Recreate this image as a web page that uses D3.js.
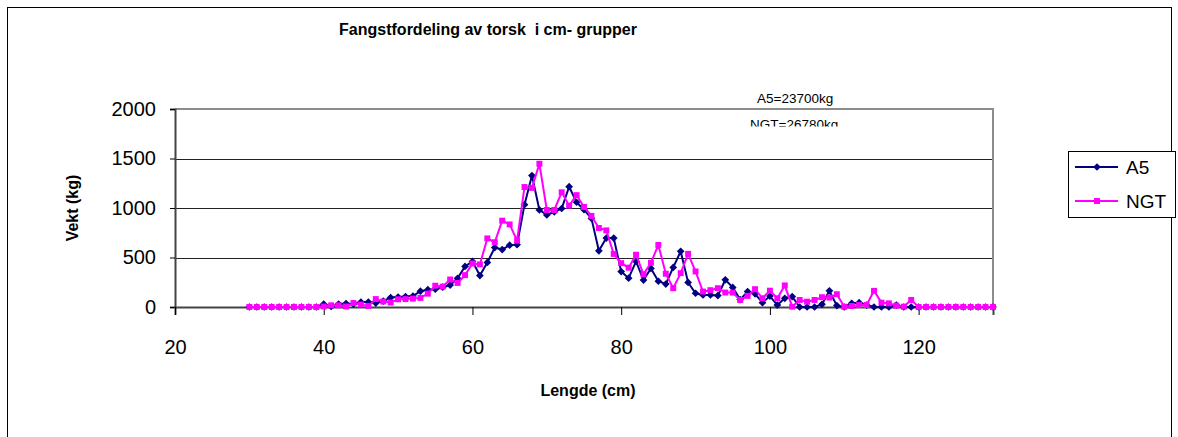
<!DOCTYPE html>
<html>
<head>
<meta charset="utf-8">
<script src="https://cdn.jsdelivr.net/npm/d3@7"></script>
<style>
  body { margin: 0; background: #fff; }
  svg { display: block; font-family: Arial, "Liberation Sans", sans-serif; }
</style>
</head>
<body>
<div id="chart"></div>
<script>
// lengths in cm, 30..130
const lengths = [30,31,32,33,34,35,36,37,38,39,40,41,42,43,44,45,46,47,48,49,
  50,51,52,53,54,55,56,57,58,59,60,61,62,63,64,65,66,67,68,69,
  70,71,72,73,74,75,76,77,78,79,80,81,82,83,84,85,86,87,88,89,
  90,91,92,93,94,95,96,97,98,99,100,101,102,103,104,105,106,107,108,109,
  110,111,112,113,114,115,116,117,118,119,120,121,122,123,124,125,126,127,128,129,130];

const a5 = [0,0,0,0,0,0,0,0,0,0,30,5,30,35,30,50,50,40,60,95,
  100,105,110,160,175,180,200,222,290,410,460,318,450,600,580,625,630,1034,1328,980,
  930,960,995,1215,1058,983,895,568,696,696,358,291,460,272,390,260,232,400,562,248,
  139,122,122,115,275,198,75,156,133,44,110,20,88,105,0,0,0,27,163,14,
  0,37,44,20,0,0,0,20,0,0,0,0,0,0,0,0,0,0,0,0,0];

const ngt = [0,0,0,0,0,0,0,0,0,0,5,17,17,5,40,25,10,80,55,45,
  78,80,85,92,135,215,206,278,243,322,440,430,693,654,872,834,672,1212,1203,1447,
  980,980,1159,1024,1130,1011,920,798,774,536,443,397,528,330,447,627,336,190,342,537,
  359,156,170,190,146,146,71,112,180,88,165,88,218,3,71,54,71,99,95,129,
  3,10,20,20,163,44,37,14,3,71,0,0,0,0,0,0,0,0,0,0,0];

const xTicks = [20,40,60,80,100,120];
const yTicks = [0,500,1000,1500,2000];

const seriesNames = ["A5", "NGT"];
const seriesColors = ["#000080", "#ff00ff"];
const notes = ["A5=23700kg", "NGT=26780kg"];

const width = 1178, height = 437;
const plot = {left: 175, right: 993, top: 109, bottom: 307};

const svg = d3.select("#chart").append("svg")
  .attr("width", width)
  .attr("height", height);

// outer chart frame
svg.append("rect")
  .attr("x", 7.5).attr("y", 7.5)
  .attr("width", 1164).attr("height", 450)
  .attr("fill", "none").attr("stroke", "#000").attr("stroke-width", 1);

const x = d3.scaleLinear().domain([20, 130]).range([plot.left, plot.right]);
const y = d3.scaleLinear().domain([0, 2000]).range([plot.bottom, plot.top]);

// gridlines
svg.append("g")
  .selectAll("line")
  .data(yTicks.slice(1, -1))
  .join("line")
  .attr("x1", plot.left).attr("x2", plot.right)
  .attr("y1", d => Math.round(y(d)) + 0.5).attr("y2", d => Math.round(y(d)) + 0.5)
  .attr("stroke", "#222").attr("stroke-width", 1);

// plot area border (top & right, grey)
svg.append("path")
  .attr("d", `M${plot.left},${plot.top} H${plot.right} V${plot.bottom}`)
  .attr("fill", "none").attr("stroke", "#8c8c8c").attr("stroke-width", 2);

// y axis
const yAxis = svg.append("g")
  .attr("transform", `translate(${plot.left},0)`)
  .call(d3.axisLeft(y).tickValues(yTicks).tickSize(5).tickPadding(14).tickFormat(d3.format("d")));
yAxis.select(".domain").attr("stroke", "#444").attr("stroke-width", 2);
yAxis.selectAll(".tick line").attr("stroke", "#000");
yAxis.selectAll(".tick text").attr("font-size", 20).attr("fill", "#000")
  .attr("font-family", "Arial, 'Liberation Sans', sans-serif");

// x axis
const xAxis = svg.append("g")
  .attr("transform", `translate(0,${plot.bottom})`)
  .call(d3.axisBottom(x).tickValues(xTicks).tickSize(8).tickPadding(25));
xAxis.select(".domain").attr("stroke", "#444").attr("stroke-width", 2);
xAxis.selectAll(".tick line").attr("stroke", "#000");
xAxis.selectAll(".tick text").attr("font-size", 20).attr("fill", "#000")
  .attr("font-family", "Arial, 'Liberation Sans', sans-serif");

// titles
svg.append("text")
  .attr("x", 488).attr("y", 35)
  .attr("text-anchor", "middle")
  .attr("font-size", 16).attr("font-weight", "bold")
  .attr("xml:space", "preserve")
  .text("Fangstfordeling av torsk  i cm- grupper");

svg.append("text")
  .attr("x", 588).attr("y", 396)
  .attr("text-anchor", "middle")
  .attr("font-size", 16).attr("font-weight", "bold")
  .text("Lengde (cm)");

svg.append("text")
  .attr("transform", "translate(78,208) rotate(-90)")
  .attr("text-anchor", "middle")
  .attr("font-size", 16).attr("font-weight", "bold")
  .text("Vekt (kg)");

// annotations
svg.append("text")
  .attr("x", 757).attr("y", 103)
  .attr("font-size", 13.5)
  .text(notes[0]);

svg.append("clipPath").attr("id", "noteClip")
  .append("rect").attr("x", 700).attr("y", 110).attr("width", 200).attr("height", 16.5);

svg.append("text")
  .attr("x", 750).attr("y", 129)
  .attr("font-size", 13.5)
  .attr("clip-path", "url(#noteClip)")
  .text(notes[1]);

// series
const line = d3.line()
  .x((d, i) => x(lengths[i]))
  .y(d => y(d));

const diamond = d3.symbol().type(d3.symbolDiamond2).size(38);
const square = d3.symbol().type(d3.symbolSquare2).size(45);

[a5, ngt].forEach((vals, k) => {
  const g = svg.append("g");
  g.append("path")
    .datum(vals)
    .attr("d", line)
    .attr("fill", "none")
    .attr("stroke", seriesColors[k])
    .attr("stroke-width", 2);
  g.selectAll("path.mk")
    .data(vals)
    .join("path")
    .attr("class", "mk")
    .attr("transform", (d, i) => `translate(${x(lengths[i])},${y(d)})`)
    .attr("d", k === 0 ? diamond : square)
    .attr("fill", seriesColors[k]);
});

// legend
const legend = svg.append("g");
legend.append("rect")
  .attr("x", 1068.5).attr("y", 151.5)
  .attr("width", 107).attr("height", 66)
  .attr("fill", "#fff").attr("stroke", "#000").attr("stroke-width", 1);

seriesNames.forEach((name, k) => {
  const ly = 167 + k * 34;
  legend.append("line")
    .attr("x1", 1075).attr("x2", 1118)
    .attr("y1", ly).attr("y2", ly)
    .attr("stroke", seriesColors[k]).attr("stroke-width", 2);
  legend.append("path")
    .attr("transform", `translate(1097,${ly})`)
    .attr("d", k === 0 ? diamond : square)
    .attr("fill", seriesColors[k]);
  legend.append("text")
    .attr("x", 1126).attr("y", ly + 7)
    .attr("font-size", 19)
    .text(name);
});
</script>
</body>
</html>
